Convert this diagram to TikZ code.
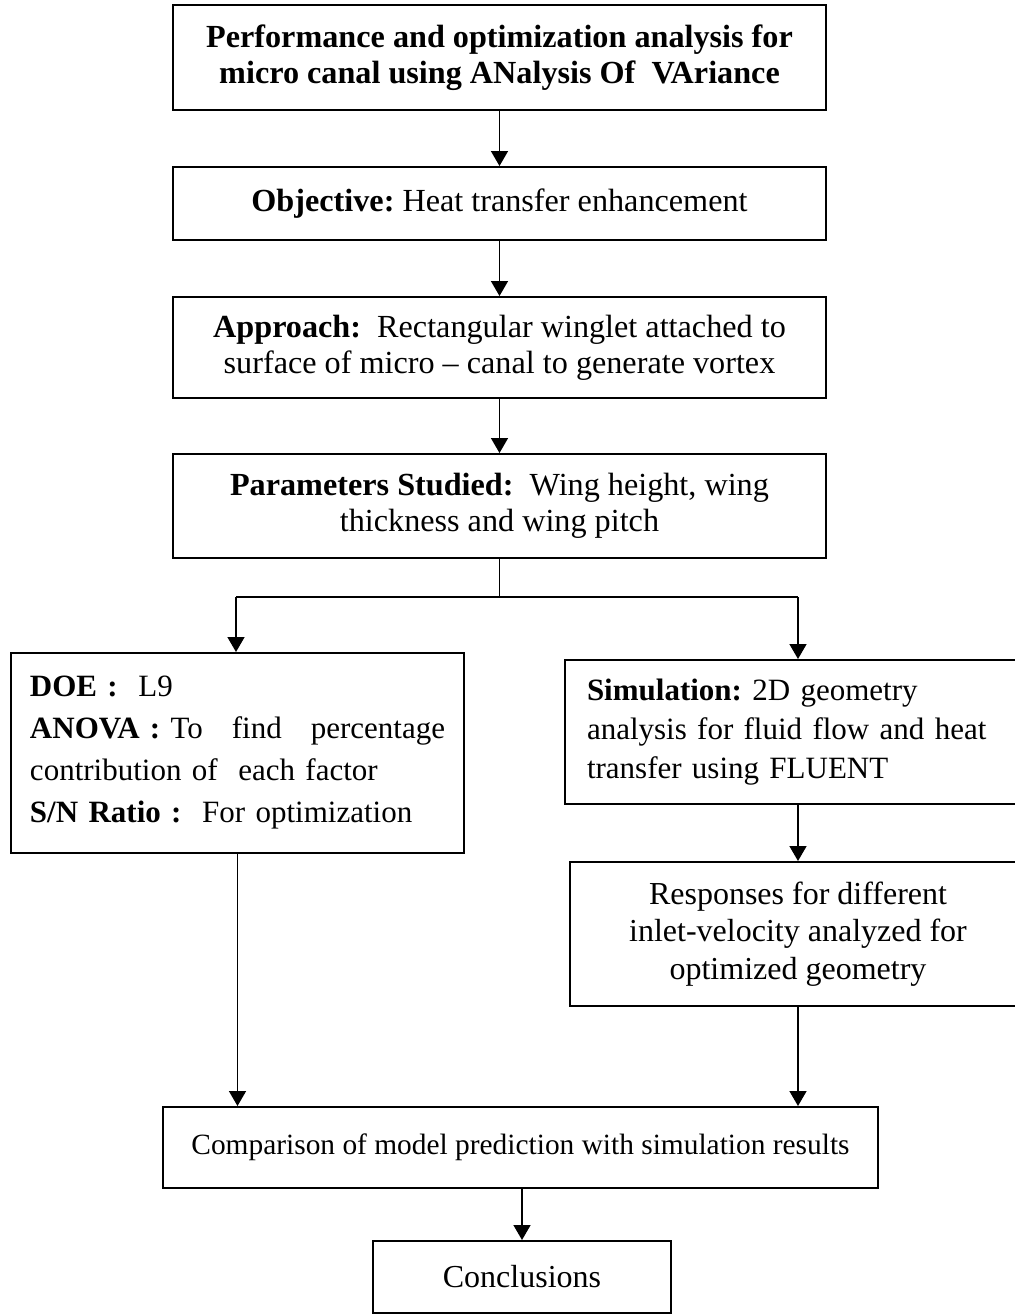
\documentclass[tikz,border=0pt]{standalone}
\usepackage{fontspec}
\setmainfont{Liberation Serif}
\usetikzlibrary{arrows.meta,positioning}
\frenchspacing

\begin{document}
\begin{tikzpicture}[x=0.5pt,y=-0.5pt,->,>={Triangle[length=7.5pt,width=8.5pt]},line width=0.75pt,font=\fontsize{16.1}{18}\selectfont]

  \tikzstyle{box}=[draw,line width=1pt,align=center,inner sep=0pt,fill=white]
  \tikzstyle{wide}=[box,minimum width=326.5pt]

  \useasboundingbox (0,0) rectangle (1014,1314);

  \node[wide,minimum height=52.5pt] (title) at (499.5,57.5)
    {\textbf{Performance and optimization analysis for}\\\textbf{micro canal using ANalysis Of\ \ VAriance}};
  \node[wide,minimum height=36.5pt] (obj) at (499.5,203.5)
    {\textbf{Objective:} Heat transfer enhancement};
  \node[wide,minimum height=50.5pt] (appr) at (499.5,347.5)
    {\textbf{Approach:}\ \ Rectangular winglet attached to\\surface of micro -- canal to generate vortex};
  \node[wide,minimum height=52pt] (param) at (499.5,506)
    {\textbf{Parameters Studied:}\ \ Wing height, wing\\thickness and wing pitch};

  \node[box,align=left,inner xsep=9.5pt,text width=207.5pt,minimum height=100pt,font=\fontsize{15.5}{21}\selectfont] (doe) at (237.5,753)
    {\textbf{DOE :}\ \ L9\\\leavevmode\hbox to \linewidth{\textbf{ANOVA :} To\hfill find\hfill percentage}\\contribution of\ \ each factor\\\textbf{S/N Ratio :}\ \ For optimization};
  \node[box,align=left,inner xsep=11pt,text width=205.5pt,minimum height=72pt,font=\fontsize{15.5}{19.5}\selectfont] (sim) at (792.5,732)
    {\textbf{Simulation:} 2D geometry\\analysis for fluid flow and heat\\transfer using FLUENT};
  \node[box,minimum width=228pt,minimum height=72pt,font=\fontsize{16}{18.7}\selectfont] (resp) at (798,934)
    {Responses for different\\inlet-velocity analyzed for\\optimized geometry};

  \node[box,minimum width=357.5pt,minimum height=40.5pt,font=\fontsize{14.7}{18}\selectfont] (comp) at (520.5,1147.5)
    {Comparison of model prediction with simulation results};
  \node[box,minimum width=149pt,minimum height=36pt,font=\fontsize{16}{18}\selectfont] (concl) at (522,1277)
    {Conclusions};

  \coordinate (split) at (499.5,597);
  \coordinate (splitL) at (236,597);
  \coordinate (splitR) at (798,597);

  \draw (title) -- (obj);
  \draw (obj) -- (appr);
  \draw (appr) -- (param);
  \draw[-] (param) -- (split);
  \draw[-] (splitL) -- (splitR);
  \draw (splitL) -- (splitL |- doe.north);
  \draw (splitR) -- (splitR |- sim.north);
  \draw (splitR |- sim.south) -- (splitR |- resp.north);
  \draw (splitR |- resp.south) -- (splitR |- comp.north);
  \draw (doe.south) -- (doe.south |- comp.north);
  \draw (comp.south -| concl.north) -- (concl);
\end{tikzpicture}
\end{document}
